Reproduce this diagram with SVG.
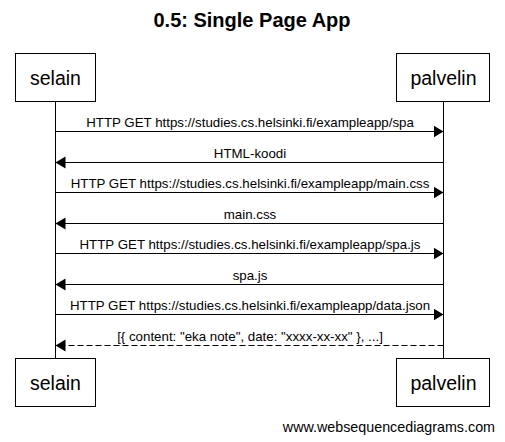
<svg xmlns="http://www.w3.org/2000/svg" width="505" height="442" viewBox="0 0 505 442">
<defs>
<style>
text{font-family:"Liberation Sans",Arial,sans-serif;fill:#000}
.title{font-size:20px;font-weight:bold;text-anchor:middle}
.actor rect{fill:#fff;stroke:#000;stroke-width:1}
.actor text{font-size:19.5px;text-anchor:middle}
.life{stroke:#000;stroke-width:1}
.msg line{stroke:#000;stroke-width:1}
.msg .dash{stroke-dasharray:6,3}
.msg text{font-size:13.3px;text-anchor:middle}
.foot{font-size:14.3px;text-anchor:end}
</style>
<marker id="ah" markerUnits="userSpaceOnUse" markerWidth="11" markerHeight="13" refX="10" refY="6" orient="auto">
<path d="M0,0 L10,6 L0,12 Z" fill="#000"/>
</marker>
</defs>
<rect width="505" height="442" fill="#fff"/>
<text class="title" x="252" y="27">0.5: Single Page App</text>
<g id="lifelines">
<line class="life" x1="55.5" y1="101" x2="55.5" y2="358"/>
<line class="life" x1="443.5" y1="101" x2="443.5" y2="358"/>
</g>
<g id="selain-top" class="actor"><rect x="15.5" y="53.5" width="80" height="48"/><text x="55.5" y="85">selain</text></g>
<g id="palvelin-top" class="actor"><rect x="396.5" y="53.5" width="93" height="48"/><text x="443.5" y="85">palvelin</text></g>
<g id="selain-bottom" class="actor"><rect x="15.5" y="358.5" width="80" height="48"/><text x="55.5" y="390">selain</text></g>
<g id="palvelin-bottom" class="actor"><rect x="396.5" y="358.5" width="93" height="48"/><text x="443.5" y="390">palvelin</text></g>
<g id="connectors" class="msg">
<line x1="55.5" y1="131.5" x2="443.5" y2="131.5" marker-end="url(#ah)"/>
<text x="250" y="127">HTTP GET https://studies.cs.helsinki.fi/exampleapp/spa</text>
<line x1="443.5" y1="162.5" x2="55.5" y2="162.5" marker-end="url(#ah)"/>
<text x="250" y="158">HTML-koodi</text>
<line x1="55.5" y1="192.5" x2="443.5" y2="192.5" marker-end="url(#ah)"/>
<text x="250" y="188">HTTP GET https://studies.cs.helsinki.fi/exampleapp/main.css</text>
<line x1="443.5" y1="223.5" x2="55.5" y2="223.5" marker-end="url(#ah)"/>
<text x="250" y="219">main.css</text>
<line x1="55.5" y1="253.5" x2="443.5" y2="253.5" marker-end="url(#ah)"/>
<text x="250" y="249">HTTP GET https://studies.cs.helsinki.fi/exampleapp/spa.js</text>
<line x1="443.5" y1="284.5" x2="55.5" y2="284.5" marker-end="url(#ah)"/>
<text x="250" y="280">spa.js</text>
<line x1="55.5" y1="314.5" x2="443.5" y2="314.5" marker-end="url(#ah)"/>
<text x="250" y="310">HTTP GET https://studies.cs.helsinki.fi/exampleapp/data.json</text>
<line class="dash" x1="443.5" y1="345.5" x2="55.5" y2="345.5" marker-end="url(#ah)"/>
<text x="250" y="341">[{ content: "eka note", date: "xxxx-xx-xx" }, ...]</text>
</g>
<text class="foot" x="495" y="432">www.websequencediagrams.com</text>
</svg>
